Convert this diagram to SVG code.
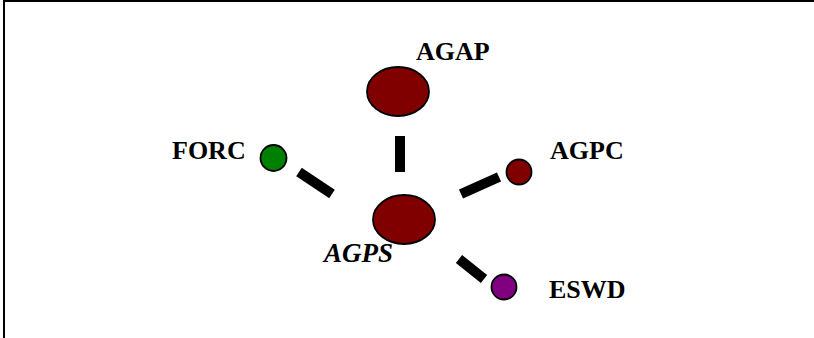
<svg xmlns="http://www.w3.org/2000/svg" width="814" height="338" viewBox="0 0 814 338">
  <style>
    .lbl { font-family: "Liberation Serif", "Times New Roman", serif; font-size: 26px; font-weight: bold; fill: #000; }
    .ital { font-style: italic; font-size: 27px; }
    .node { stroke: #000; stroke-width: 1.8; }
    .bar { stroke: #000; stroke-width: 10; stroke-linecap: butt; }
  </style>
  <rect width="814" height="338" fill="#fff"/>
  <!-- frame (top and left edges) -->
  <path d="M4,338 V1 H814" fill="none" stroke="#000" stroke-width="2"/>

  <g id="connectors">
    <line class="bar" x1="400" y1="136" x2="400" y2="172"/>
    <line class="bar" x1="299" y1="172" x2="332" y2="194"/>
    <line class="bar" x1="461" y1="194" x2="499" y2="177"/>
    <line class="bar" x1="459" y1="259" x2="484" y2="279"/>
  </g>

  <g id="AGAP">
    <ellipse class="node" cx="398" cy="91.5" rx="31" ry="24.5" fill="#800000"/>
    <text class="lbl" x="416" y="60">AGAP</text>
  </g>
  <g id="FORC">
    <circle class="node" cx="273.5" cy="158" r="13" fill="#008000"/>
    <text class="lbl" x="172" y="159">FORC</text>
  </g>
  <g id="AGPC">
    <circle class="node" cx="519" cy="172" r="12.5" fill="#800000"/>
    <text class="lbl" x="550" y="159">AGPC</text>
  </g>
  <g id="AGPS">
    <ellipse class="node" cx="404" cy="219.5" rx="31" ry="24.5" fill="#800000"/>
    <text class="lbl ital" x="324" y="262">AGPS</text>
  </g>
  <g id="ESWD">
    <circle class="node" cx="504" cy="287" r="12.5" fill="#800080"/>
    <text class="lbl" x="549" y="298">ESWD</text>
  </g>
</svg>
